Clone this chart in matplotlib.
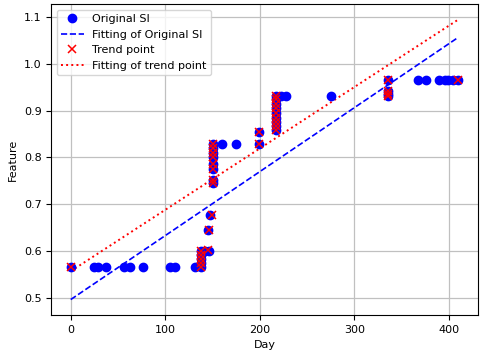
import numpy as np
import matplotlib.pyplot as plt

# original SI samples (day, feature)
day = np.array([
    0, 25, 29, 37, 56, 63, 76, 105, 110, 131,
    138, 138, 138, 138, 138, 142, 146, 145, 147,
    151, 151, 151, 151, 151, 151, 151, 151, 160, 175,
    199, 199,
    217, 217, 217, 217, 217, 217, 217, 217, 217, 223, 228, 275,
    336, 336, 336, 336, 367, 376, 390, 396, 399, 404, 410,
])
feature = np.array([
    0.567, 0.567, 0.567, 0.567, 0.567, 0.567, 0.567, 0.567, 0.567, 0.567,
    0.567, 0.575, 0.583, 0.592, 0.600, 0.601, 0.601, 0.646, 0.678,
    0.745, 0.752, 0.775, 0.786, 0.800, 0.810, 0.820, 0.828, 0.828, 0.828,
    0.828, 0.855,
    0.858, 0.866, 0.875, 0.885, 0.895, 0.905, 0.915, 0.925, 0.931, 0.931, 0.931, 0.931,
    0.931, 0.936, 0.942, 0.965, 0.965, 0.965, 0.965, 0.965, 0.965, 0.965, 0.965,
])

# trend points
trend_day = np.array([
    0, 138, 138, 138, 138, 138, 145, 146, 149,
    151, 151, 151, 151, 151, 151, 151, 151,
    199, 199,
    217, 217, 217, 217, 217, 217, 217, 217, 217,
    336, 336, 336, 336, 410,
])
trend_feature = np.array([
    0.567, 0.567, 0.575, 0.583, 0.592, 0.600, 0.602, 0.646, 0.678,
    0.745, 0.752, 0.775, 0.786, 0.800, 0.810, 0.820, 0.828,
    0.828, 0.855,
    0.858, 0.866, 0.875, 0.885, 0.895, 0.905, 0.915, 0.925, 0.931,
    0.931, 0.936, 0.942, 0.965, 0.965,
])

# linear fits: intercept, slope
fit_si = [0.4965, 0.001365]
fit_trend = [0.557, 0.001310]

fig = plt.figure(figsize=(4.8, 3.5), dpi=100)
ax = fig.add_axes([0.107, 0.1, 0.888, 0.888])

xs = np.array([day.min(), day.max()])
ax.plot(day, feature, "o", color="blue", markersize=6, label="Original SI", zorder=3)
ax.plot(xs, fit_si[0] + fit_si[1] * xs, "--", color="blue", lw=1.2,
        label="Fitting of Original SI")
ax.plot(trend_day, trend_feature, "x", color="red", markersize=5.5, mew=1.1,
        label="Trend point", zorder=4)
ax.plot(xs, fit_trend[0] + fit_trend[1] * xs, ":", color="red", lw=1.4,
        label="Fitting of trend point")

ax.set_xticks([0, 100, 200, 300, 400])
ax.set_yticks([0.5, 0.6, 0.7, 0.8, 0.9, 1.0, 1.1])
ax.set_ylim(0.4635, 1.127)
ax.grid(True, color="#c0c0c0", lw=0.9)
ax.tick_params(labelsize=8)
ax.set_xlabel("Day", fontsize=8)
ax.set_ylabel("Feature", fontsize=8)
ax.legend(loc="upper left", fontsize=8)

fig.savefig("out.png")
